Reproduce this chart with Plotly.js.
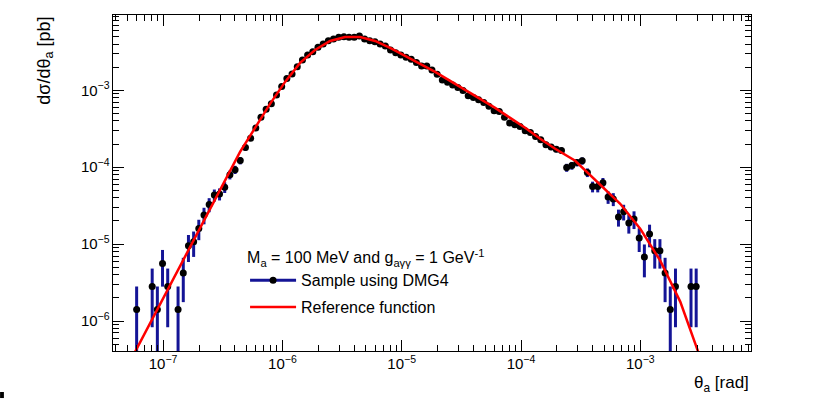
<!DOCTYPE html>
<html>
<head>
<meta charset="utf-8">
<script src="https://cdn.plot.ly/plotly-3.0.1.min.js"></script>
<style>
  html, body { margin: 0; padding: 0; background: #fff; }
  #plot { width: 828px; height: 399px; }
</style>
</head>
<body>
<div id="plot"></div>
<script>
// binned sample (DMG4), theta bin centres in rad, dsigma/dtheta in pb
let theta = [
  6.00e-8, 8.10e-8, 8.95e-8, 9.89e-8, 1.093e-7, 1.335e-7, 1.476e-7, 1.631e-7, 1.803e-7, 1.992e-7,
  2.202e-7, 2.433e-7, 2.689e-7, 2.972e-7, 3.284e-7, 3.630e-7, 4.012e-7, 4.433e-7, 4.900e-7, 5.415e-7,
  5.984e-7, 6.614e-7, 7.309e-7, 8.078e-7, 8.928e-7, 9.867e-7, 1.090e-6, 1.205e-6, 1.332e-6, 1.472e-6,
  1.627e-6, 1.798e-6, 1.987e-6, 2.196e-6, 2.427e-6, 2.682e-6, 2.964e-6, 3.276e-6, 3.620e-6, 4.001e-6,
  4.422e-6, 4.887e-6, 5.401e-6, 5.969e-6, 6.597e-6, 7.291e-6, 8.057e-6, 8.905e-6, 9.841e-6, 1.0876e-5,
  1.2020e-5, 1.3284e-5, 1.4681e-5, 1.6226e-5, 1.7932e-5, 1.9818e-5, 2.1902e-5, 2.421e-5, 2.675e-5, 2.956e-5,
  3.267e-5, 3.611e-5, 3.991e-5, 4.411e-5, 4.874e-5, 5.387e-5, 5.954e-5, 6.580e-5, 7.272e-5, 8.037e-5,
  8.882e-5, 9.816e-5, 1.0848e-4, 1.1989e-4, 1.3250e-4, 1.4643e-4, 1.6184e-4, 1.789e-4, 1.977e-4, 2.185e-4,
  2.414e-4, 2.668e-4, 2.949e-4, 3.259e-4, 3.602e-4, 3.981e-4, 4.399e-4, 4.862e-4, 5.373e-4, 5.938e-4,
  6.563e-4, 7.253e-4, 8.016e-4, 8.859e-4, 9.791e-4, 1.0820e-3, 1.1958e-3, 1.322e-3, 1.461e-3, 1.614e-3,
  1.784e-3, 1.972e-3, 2.661e-3, 2.941e-3
];
let dsigma = [
  1.41e-6, 2.82e-6, 1.41e-6, 5.6e-6, 2.82e-6, 1.41e-6, 4.2e-6, 9.5e-6, 1.07e-5, 1.60e-5,
  2.39e-5, 3.28e-5, 4.35e-5, 4.5e-5, 5.5e-5, 8.0e-5, 9.3e-5, 1.22e-4, 1.80e-4, 2.38e-4,
  3.23e-4, 4.48e-4, 5.69e-4, 6.67e-4, 8.68e-4, 1.119e-3, 1.43e-3, 1.636e-3, 2.035e-3, 2.486e-3,
  2.887e-3, 3.187e-3, 3.635e-3, 4.012e-3, 4.428e-3, 4.66e-3, 4.903e-3, 4.992e-3, 4.903e-3, 4.903e-3,
  5.097e-3, 4.66e-3, 4.428e-3, 4.297e-3, 4.012e-3, 3.779e-3, 3.353e-3, 3.093e-3, 2.887e-3, 2.695e-3,
  2.539e-3, 2.294e-3, 2.078e-3, 2.078e-3, 1.843e-3, 1.622e-3, 1.367e-3, 1.276e-3, 1.177e-3, 1.086e-3,
  9.93e-4, 8.48e-4, 8.05e-4, 7.52e-4, 6.93e-4, 6.23e-4, 5.41e-4, 5.30e-4, 4.48e-4, 3.75e-4,
  3.56e-4, 3.38e-4, 2.98e-4, 2.83e-4, 2.51e-4, 2.27e-4, 1.96e-4, 1.83e-4, 1.72e-4, 1.65e-4,
  9.9e-5, 1.05e-4, 1.15e-4, 1.21e-4, 8.55e-5, 5.6e-5, 5.6e-5, 6.3e-5, 4.1e-5, 3.86e-5,
  2.25e-5, 2.64e-5, 1.88e-5, 2.12e-5, 1.2e-5, 6.8e-6, 1.35e-5, 8.2e-6, 8.2e-6, 4.2e-6,
  1.41e-6, 2.82e-6, 2.82e-6, 2.82e-6
];
let dsigma_err = [
  1.41e-6, 1.99e-6, 1.41e-6, 2.8e-6, 1.99e-6, 1.41e-6, 2.44e-6, 3.65e-6, 3.88e-6, 4.75e-6,
  5.8e-6, 6.8e-6, 7.8e-6, 8.0e-6, 8.8e-6, 1.06e-5, 1.14e-5, 1.31e-5, 1.6e-5, 1.8e-5,
  2.1e-5, 2.5e-5, 2.8e-5, 3.1e-5, 3.5e-5, 4.0e-5, 4.5e-5, 4.8e-5, 5.4e-5, 5.9e-5,
  6.4e-5, 6.7e-5, 7.2e-5, 7.5e-5, 7.9e-5, 8.1e-5, 8.3e-5, 8.4e-5, 8.3e-5, 8.3e-5,
  8.5e-5, 8.1e-5, 7.9e-5, 7.8e-5, 7.5e-5, 7.3e-5, 6.9e-5, 6.6e-5, 6.4e-5, 6.2e-5,
  6.0e-5, 5.7e-5, 5.4e-5, 5.4e-5, 5.1e-5, 4.8e-5, 4.4e-5, 4.2e-5, 4.1e-5, 3.9e-5,
  3.7e-5, 3.5e-5, 3.4e-5, 3.3e-5, 3.1e-5, 3.0e-5, 2.8e-5, 2.7e-5, 2.5e-5, 2.3e-5,
  2.2e-5, 2.2e-5, 2.0e-5, 2.0e-5, 1.9e-5, 1.8e-5, 1.7e-5, 1.6e-5, 1.56e-5, 1.53e-5,
  1.18e-5, 1.22e-5, 1.27e-5, 1.31e-5, 1.1e-5, 8.9e-6, 8.9e-6, 9.4e-6, 7.6e-6, 7.4e-6,
  5.6e-6, 6.1e-6, 5.1e-6, 5.5e-6, 4.1e-6, 3.1e-6, 4.4e-6, 3.4e-6, 3.4e-6, 2.44e-6,
  1.41e-6, 1.99e-6, 1.99e-6, 1.99e-6
];

// reference function (coarse graph)
let ref_theta = [
  5.28e-8, 4.416e-7, 5.90e-7, 7.88e-7, 1.053e-6, 1.406e-6, 1.878e-6, 2.51e-6, 3.353e-6, 4.48e-6,
  5.985e-6, 7.995e-6, 1.068e-5, 1.427e-5, 1.906e-5, 2.547e-5, 3.402e-5, 4.545e-5, 6.072e-5, 8.11e-5,
  1.083e-4, 1.447e-4, 1.934e-4, 2.846e-4, 4.185e-4, 6.785e-4, 9.98e-4, 1.469e-3, 2.161e-3, 3.059e-3,
  3.502e-3
];
let ref_dsigma = [
  2.975e-7, 1.588e-4, 3.255e-4, 6.67e-4, 1.288e-3, 2.273e-3, 3.353e-3, 4.388e-3, 4.947e-3, 4.947e-3,
  4.388e-3, 3.56e-3, 2.803e-3, 2.206e-3, 1.737e-3, 1.327e-3, 1.014e-3, 7.746e-4, 5.918e-4, 4.388e-4,
  3.255e-4, 2.342e-4, 1.737e-4, 1.213e-4, 6.87e-5, 3.353e-5, 1.588e-5, 6.1e-6, 1.789e-6, 4.013e-7,
  2.206e-7
];

let font_family = "'Liberation Sans', Arial, Helvetica, sans-serif";
let blue = "rgb(20,20,150)";
let red = "rgb(255,0,0)";

let sample = {
  x: theta,
  y: dsigma,
  error_y: { type: "data", array: dsigma_err, color: blue, thickness: 3, width: 0 },
  mode: "markers",
  type: "scatter",
  marker: { color: "black", size: 7 },
  showlegend: false,
  hoverinfo: "x+y",
};

let reference = {
  x: ref_theta,
  y: ref_dsigma,
  mode: "lines",
  type: "scatter",
  line: { color: red, width: 2.5 },
  name: "Reference function",
  legendgroup: "ref",
};

let sample_key = {
  x: [null],
  y: [null],
  mode: "lines+markers",
  type: "scatter",
  line: { color: blue, width: 3 },
  marker: { color: "black", size: 7 },
  name: "Sample using DMG4",
  legendgroup: "sample",
};

let axis_common = {
  type: "log",
  showgrid: false,
  zeroline: false,
  showline: true,
  linecolor: "black",
  linewidth: 1,
  mirror: "allticks",
  ticks: "inside",
  ticklen: 11,
  tickcolor: "black",
  dtick: 1,
  exponentformat: "power",
  tickfont: { family: font_family, size: 12, color: "black" },
  minor: { ticks: "inside", ticklen: 6, tickcolor: "black", dtick: "D1", showgrid: false },
};

var layout = {
  width: 828,
  height: 399,
  margin: { l: 113, r: 77, t: 15, b: 48 },
  paper_bgcolor: "white",
  plot_bgcolor: "white",
  font: { family: font_family, color: "black" },
  xaxis: Object.assign({}, axis_common, { range: [-7.42, -2.072] }),
  yaxis: Object.assign({}, axis_common, { range: [-6.39, -2.02] }),
  legend: {
    x: 0.207,
    y: 0.323,
    xanchor: "left",
    yanchor: "top",
    bgcolor: "rgba(0,0,0,0)",
    itemwidth: 46,
    traceorder: "grouped",
    tracegroupgap: 3,
    font: { family: font_family, size: 16, color: "black" },
    title: {
      text: "M<sub>a</sub> = 100 MeV and g<sub>aγγ</sub> = 1 GeV<sup>-1</sup>",
      font: { family: font_family, size: 16, color: "black" },
    },
  },
  annotations: [
    {
      text: "dσ/dθ<sub>a</sub> [pb]",
      xref: "paper",
      yref: "paper",
      x: -0.107,
      y: 1.0,
      xanchor: "center",
      yanchor: "top",
      textangle: -90,
      showarrow: false,
      font: { family: font_family, size: 18, color: "black" },
    },
    {
      text: "θ<sub>a</sub> [rad]",
      xref: "paper",
      yref: "paper",
      x: 1,
      y: -0.06,
      xanchor: "right",
      yanchor: "top",
      showarrow: false,
      font: { family: font_family, size: 17, color: "black" },
    },
  ],
  shapes: [
    {
      type: "rect",
      xref: "paper",
      yref: "paper",
      x0: -0.177,
      x1: -0.171,
      y0: -0.14,
      y1: -0.122,
      fillcolor: "black",
      line: { width: 0 },
    },
  ],
};

Plotly.newPlot("plot", [sample, sample_key, reference], layout, { staticPlot: true });
</script>
</body>
</html>
